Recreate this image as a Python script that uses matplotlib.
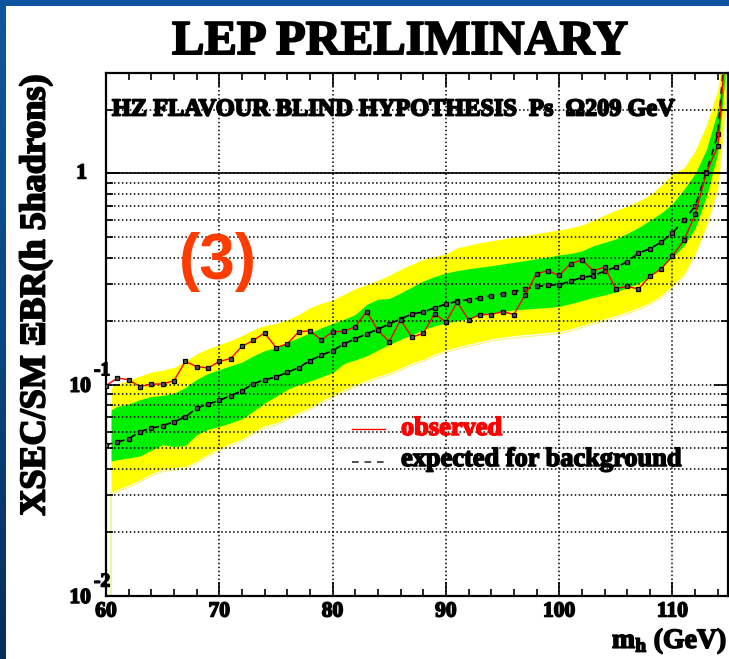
import numpy as np
import matplotlib
matplotlib.use('Agg')
import matplotlib.pyplot as plt
import matplotlib.patheffects as pe
from matplotlib.ticker import MultipleLocator, LogLocator, NullFormatter
from matplotlib.patches import Rectangle
from matplotlib.lines import Line2D
from matplotlib.colors import LinearSegmentedColormap

# ---------------- data ----------------
mass = list(range(60, 116))
observed = [0.099, 0.1076, 0.1056, 0.098, 0.1008, 0.1008, 0.1045, 0.129, 0.122, 0.120,
            0.129, 0.133, 0.152, 0.162, 0.176, 0.150, 0.156, 0.178, 0.180, 0.163,
            0.178, 0.179, 0.188, 0.222, 0.181, 0.160, 0.203, 0.168, 0.175, 0.217,
            0.198, 0.246, 0.203, 0.215, 0.215, 0.222, 0.215, 0.267, 0.335, 0.347,
            0.329, 0.374, 0.390, 0.347, 0.360, 0.285, 0.292, 0.284, 0.326, 0.353,
            0.408, 0.482, 0.64, 1.01, 1.35, 6.5]
expected = [0.052, 0.0535, 0.0555, 0.060, 0.0623, 0.064, 0.0668, 0.0703, 0.0776, 0.081,
            0.0843, 0.0887, 0.0937, 0.101, 0.1056, 0.1088, 0.1144, 0.1204, 0.130, 0.138,
            0.145, 0.156, 0.165, 0.174, 0.183, 0.194, 0.205, 0.216, 0.221, 0.231,
            0.241, 0.248, 0.253, 0.257, 0.264, 0.269, 0.276, 0.284, 0.292, 0.295,
            0.298, 0.309, 0.322, 0.328, 0.345, 0.360, 0.382, 0.42, 0.44, 0.473,
            0.523, 0.60, 0.70, 1.02, 1.53, 7.0]
band1_hi = [0.076, 0.079, 0.081, 0.085, 0.088, 0.089, 0.091, 0.097, 0.106, 0.113,
            0.118, 0.123, 0.128, 0.137, 0.145, 0.150, 0.159, 0.167, 0.176, 0.186,
            0.195, 0.204, 0.215, 0.240, 0.254, 0.256, 0.272, 0.290, 0.310, 0.325,
            0.338, 0.347, 0.354, 0.360, 0.366, 0.373, 0.380, 0.387, 0.395, 0.402,
            0.412, 0.418, 0.430, 0.455, 0.472, 0.490, 0.520, 0.555, 0.600, 0.650,
            0.720, 0.840, 1.00, 1.30, 2.00, 5.0]
band1_lo = [0.0435, 0.0442, 0.045, 0.046, 0.049, 0.052, 0.051, 0.0515, 0.058, 0.0615,
            0.0635, 0.066, 0.069, 0.075, 0.082, 0.088, 0.095, 0.100, 0.104, 0.109,
            0.114, 0.126, 0.131, 0.137, 0.146, 0.155, 0.164, 0.172, 0.182, 0.190,
            0.196, 0.201, 0.206, 0.212, 0.218, 0.222, 0.226, 0.228, 0.230, 0.232,
            0.235, 0.242, 0.250, 0.259, 0.266, 0.275, 0.288, 0.302, 0.325, 0.360,
            0.400, 0.455, 0.550, 0.780, 1.25, 4.5]
band2_hi = [0.097, 0.101, 0.105, 0.110, 0.115, 0.117, 0.121, 0.129, 0.140, 0.148,
            0.155, 0.162, 0.171, 0.182, 0.191, 0.195, 0.203, 0.215, 0.232, 0.243,
            0.252, 0.268, 0.285, 0.298, 0.312, 0.330, 0.352, 0.372, 0.392, 0.405,
            0.415, 0.445, 0.458, 0.470, 0.480, 0.490, 0.500, 0.508, 0.520, 0.530,
            0.540, 0.553, 0.570, 0.600, 0.635, 0.670, 0.700, 0.740, 0.790, 0.880,
            1.00, 1.06, 1.28, 1.70, 2.50, 6.0]
band2_lo = [0.031, 0.032, 0.0335, 0.0355, 0.038, 0.0398, 0.0405, 0.041, 0.0435, 0.047,
            0.050, 0.0528, 0.0555, 0.060, 0.064, 0.066, 0.070, 0.074, 0.078, 0.084,
            0.089, 0.095, 0.100, 0.105, 0.110, 0.114, 0.120, 0.127, 0.132, 0.140,
            0.146, 0.151, 0.156, 0.160, 0.165, 0.168, 0.171, 0.173, 0.175, 0.177,
            0.179, 0.184, 0.191, 0.198, 0.205, 0.213, 0.222, 0.232, 0.245, 0.265,
            0.295, 0.335, 0.420, 0.570, 0.850, 3.0]
x_ticks = [60, 70, 80, 90, 100, 110]
x_tick_labels = ['60', '70', '80', '90', '100', '110']
y_label_values = [0.01, 0.1, 1.0]
y_label_mantissa = ['10', '10', '1']
y_label_exponent = ['-2', '-1', '']

# ---------------- style ----------------
W, H = 729, 659
SERIF = 'Liberation Serif'
BAND_START = 60.45
XMAX = 114.9
YMIN, YMAX = 0.01, 3.0
GRID_LS = (0, (1, 1.6))


def heavy_fx(color='black', lw=1.1):
    return [pe.withStroke(linewidth=lw, foreground=color)]


heavy = heavy_fx()

plt.rcParams['mathtext.fontset'] = 'custom'
plt.rcParams['mathtext.rm'] = 'Liberation Serif:bold'
plt.rcParams['mathtext.bf'] = 'Liberation Serif:bold'
plt.rcParams['mathtext.it'] = 'Liberation Serif:bold'

fig = plt.figure(figsize=(W / 100, H / 100), dpi=100)

# blue slide background with white panel
bg = fig.add_axes([0, 0, 1, 1], zorder=-10)
grad = np.linspace(0, 1, 256).reshape(-1, 1)
cmap = LinearSegmentedColormap.from_list('slide', ['#0f56a0', '#0b4686', '#072d5a'])
bg.imshow(grad, aspect='auto', cmap=cmap, extent=[0, 1, 0, 1], origin='upper')
bg.add_patch(Rectangle((6 / W, 0), 1, 1 - 6 / H, transform=bg.transAxes,
                       facecolor='white', edgecolor='none'))
bg.set_xlim(0, 1)
bg.set_ylim(0, 1)
bg.axis('off')

ax = fig.add_axes([106 / W, 1 - 596 / H, 622 / W, (596 - 72.7) / H])
ax.set_yscale('log')
ax.set_xlim(60, XMAX)
ax.set_ylim(YMIN, YMAX)

bx = np.maximum(np.array(mass, float), BAND_START)
ax.fill_between(bx, band2_lo, band2_hi, color='#ffff00', lw=0, zorder=1)
ax.fill_between(bx, band1_lo, band1_hi, color='#00f000', lw=0, zorder=1.1)
ax.plot(bx, np.array(band2_lo) * 0.975, color='#f4f47a', lw=0.8, zorder=1)
ax.plot([bx[0], bx[0]], [YMIN, band2_lo[0]], color='#eef58a', lw=1.2, zorder=1)

ax.axhline(1.0, color='black', lw=1.2, zorder=2.6)

ax.plot(mass, expected, color='black', lw=1.2, ls=(0, (4, 3.5)), marker='s', ms=2.8,
        mfc='#555555', mec='black', mew=0.9, zorder=3.5)
ax.plot(mass, observed, color='red', lw=1.0, marker='s', ms=2.8,
        mfc='#555555', mec='black', mew=0.9, zorder=4)

# grid and ticks
ax.set_xticks(x_ticks)
ax.xaxis.set_minor_locator(MultipleLocator(2))
ax.yaxis.set_major_locator(LogLocator(base=10, numticks=10))
ax.yaxis.set_minor_locator(LogLocator(base=10, subs=np.arange(2, 10), numticks=20))
ax.yaxis.set_major_formatter(NullFormatter())
ax.yaxis.set_minor_formatter(NullFormatter())
ax.xaxis.grid(True, which='major', color='black', ls=GRID_LS, lw=1.1)
ax.yaxis.grid(True, which='both', color='black', ls=GRID_LS, lw=1.1)
ax.set_axisbelow(False)

ax.tick_params(which='both', direction='in', top=True, right=True, width=1.2,
               color='black')
ax.tick_params(which='major', length=10)
ax.tick_params(which='minor', length=5)
ax.set_xticklabels(x_tick_labels, fontfamily=SERIF, fontweight='bold', fontsize=15.5)
ax.tick_params(axis='x', pad=4)
for t in ax.get_xticklabels():
    t.set_path_effects(heavy)
for s in ax.spines.values():
    s.set_linewidth(1.6)
    s.set_color('black')

# y tick labels (ROOT style 10^-n)
for v, m, e in zip(y_label_values, y_label_mantissa, y_label_exponent):
    if e:
        ax.annotate(m, xy=(0, v), xycoords=('axes fraction', 'data'),
                    xytext=(-15, -2), textcoords='offset pixels', ha='right', va='center',
                    fontfamily=SERIF, fontweight='bold', fontsize=15.5,
                    path_effects=heavy, annotation_clip=False)
        ax.annotate(e, xy=(0, v), xycoords=('axes fraction', 'data'),
                    xytext=(-12, 14), textcoords='offset pixels', ha='left', va='center',
                    fontfamily=SERIF, fontweight='bold', fontsize=14,
                    path_effects=heavy, annotation_clip=False)
    else:
        ax.annotate(m, xy=(0, v), xycoords=('axes fraction', 'data'),
                    xytext=(-19, 0), textcoords='offset pixels', ha='right', va='center',
                    fontfamily=SERIF, fontweight='bold', fontsize=15.5,
                    path_effects=heavy, annotation_clip=False)

# texts
fig.text(400 / W, 1 - 42 / H, 'LEP PRELIMINARY', ha='center', va='center',
         fontfamily=SERIF, fontweight='bold', fontsize=35, path_effects=heavy_fx(lw=1.4))
fig.text(112 / W, 1 - 110 / H, 'HZ FLAVOUR BLIND HYPOTHESIS  Ps  \u03a9209 GeV',
         ha='left', va='center', fontfamily=SERIF, fontweight='bold', fontsize=17.5,
         path_effects=heavy_fx(lw=1.3))
fig.text(218 / W, 1 - 262 / H, '(3)', ha='center', va='center',
         fontfamily='Liberation Sans', fontweight='bold', fontsize=46, color='#ff3c00')
fig.text(36 / W, 1 - 295 / H, 'XSEC/SM \u039eBR(h 5hadrons)', rotation=90,
         ha='center', va='center', fontfamily=SERIF, fontweight='bold', fontsize=26,
         path_effects=heavy_fx(lw=1.3))

# legend
fig.add_artist(Line2D([352 / W, 385 / W], [1 - 429 / H] * 2, color='red', lw=1))
fig.add_artist(Line2D([352 / W, 385 / W], [1 - 462 / H] * 2, color='#333333', lw=1.2,
                      ls=(0, (4, 3.5))))
fig.text(401 / W, 1 - 435 / H, 'observed', ha='left', va='baseline', color='red',
         fontfamily=SERIF, fontweight='bold', fontsize=19, path_effects=heavy_fx('red'))
fig.text(401 / W, 1 - 466 / H, 'expected for background', ha='left', va='baseline',
         fontfamily=SERIF, fontweight='bold', fontsize=19, path_effects=heavy)

# x axis title
fig.text(727 / W, 1 - 648 / H, r'$\mathbf{m}_{\mathbf{h}}$ (GeV)', ha='right', va='baseline',
         fontfamily=SERIF, fontweight='bold', fontsize=20, path_effects=heavy)

fig.savefig('out.png', dpi=100)
